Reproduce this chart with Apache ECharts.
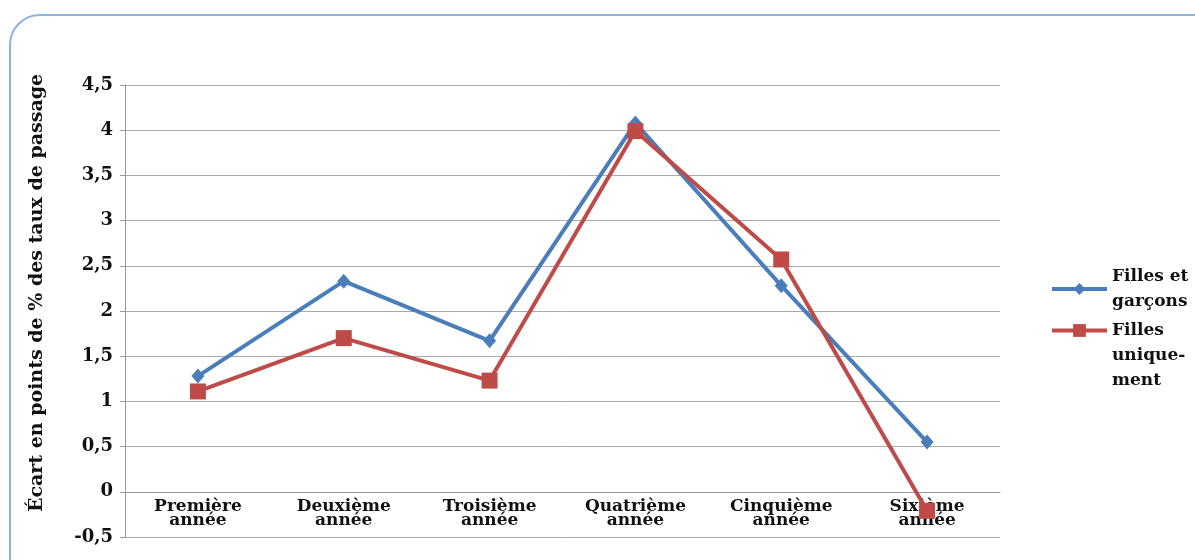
<!DOCTYPE html>
<html>
<head>
<meta charset="utf-8">
<script src="https://cdn.jsdelivr.net/npm/echarts@6/dist/echarts.min.js"></script>
<style>
  html, body { margin: 0; padding: 0; background: #fff; }
  #chart { width: 1195px; height: 560px; }
</style>
</head>
<body>
<div id="chart"></div>
<script>
// categories (années)
var annees = ['Première\nannée', 'Deuxième\nannée', 'Troisième\nannée', 'Quatrième\nannée', 'Cinquième\nannée', 'Sixième\nannée'];
// écart en points
var fillesEtGarcons = [1.28, 2.33, 1.67, 4.08, 2.28, 0.55];
var fillesUniquement = [1.11, 1.70, 1.23, 3.99, 2.57, -0.21];

var police = '"DejaVu Serif", "Liberation Serif", serif';

var myChart = echarts.init(document.getElementById('chart'));

var option = {
    animation: false,
    graphic: [{
        type: 'rect',
        shape: {x: 10, y: 15, width: 1220, height: 600, r: 30},
        style: {fill: 'none', stroke: '#8db3e2', lineWidth: 2},
        silent: true
    }],
    grid: {left: 125, right: 195, top: 85, bottom: 23, outerBoundsMode: 'none', containLabel: false},
    legend: [{
        data: ['Filles et garçons'],
        left: 1045, top: 259,
        itemWidth: 55, itemHeight: 15,
        lineStyle: {width: 4},
        formatter: function () { return 'Filles et\ngarçons'; },
        textStyle: {fontFamily: police, fontWeight: 'bold', fontSize: 17, color: '#111', lineHeight: 25}
    }, {
        data: ['Filles uniquement'],
        left: 1045, top: 267,
        itemWidth: 55, itemHeight: 16,
        lineStyle: {width: 4},
        formatter: function () { return '{a|Filles\nunique-\nment}'; },
        textStyle: {
            fontFamily: police, fontWeight: 'bold', fontSize: 17, color: '#111', lineHeight: 25,
            rich: {a: {fontFamily: police, fontWeight: 'bold', fontSize: 17, color: '#111', lineHeight: 25, padding: [50, 0, 0, 0]}}
        }
    }],
    xAxis: {
        type: 'category',
        data: annees,
        boundaryGap: true,
        position: 'bottom',
        offset: -45.2, // l'axe des catégories est posé sur la ligne du zéro
        axisLine: {onZero: false, lineStyle: {color: '#999', width: 1}},
        axisTick: {show: false},
        axisLabel: {
            margin: 8,
            fontFamily: police, fontWeight: 'bold', fontSize: 17, color: '#111', lineHeight: 14
        },
        splitLine: {show: false}
    },
    yAxis: {
        type: 'value',
        min: -0.5,
        max: 4.5,
        interval: 0.5,
        name: 'Écart en points de % des taux de passage',
        nameLocation: 'middle',
        nameGap: 78,
        nameTextStyle: {fontFamily: police, fontWeight: 'bold', fontSize: 19, color: '#111', padding: [0, 0, 0, 36]},
        axisLine: {show: true, lineStyle: {color: '#999'}},
        axisTick: {show: true, length: 5, lineStyle: {color: '#999'}},
        axisLabel: {
            margin: 12,
            fontFamily: police, fontWeight: 'bold', fontSize: 18, color: '#111',
            formatter: function (v) { return String(v).replace('.', ','); }
        },
        splitLine: {show: true, lineStyle: {color: '#aaa', width: 1}}
    },
    series: [{
        name: 'Filles et garçons',
        type: 'line',
        data: fillesEtGarcons,
        symbol: 'diamond',
        symbolSize: [13, 15],
        lineStyle: {color: '#4a7ebb', width: 4},
        itemStyle: {color: '#4a7ebb'},
        z: 2
    }, {
        name: 'Filles uniquement',
        type: 'line',
        data: fillesUniquement,
        symbol: 'rect',
        symbolSize: 16,
        lineStyle: {color: '#be4b48', width: 4},
        itemStyle: {color: '#be4b48'},
        z: 3
    }]
};

myChart.setOption(option);
</script>
</body>
</html>
